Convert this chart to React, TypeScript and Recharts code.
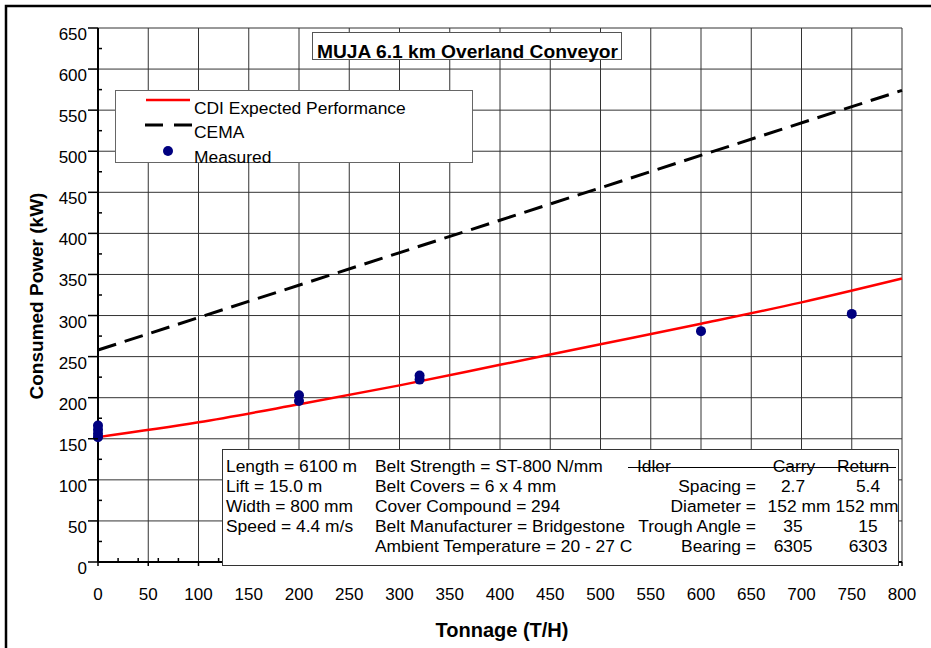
import {
  ComposedChart,
  Line,
  Scatter,
  XAxis,
  YAxis,
  CartesianGrid,
} from "recharts";

// CDI expected performance curve (T/H -> kW)
const cdiTonnage = [0, 100, 200, 300, 400, 500, 600, 700, 800];
const cdiPower = [152, 170, 192, 215, 240, 265, 290, 316, 345];

// CEMA estimate
const cemaTonnage = [0, 400, 800];
const cemaPower = [258, 416, 574];

// measured points
const measuredTonnage = [0, 0, 0, 0, 200, 200, 320, 320, 600, 750];
const measuredPower = [152, 156, 161, 166, 196, 203, 222, 227, 281, 302];

const xMajor = [0, 50, 100, 150, 200, 250, 300, 350, 400, 450, 500, 550, 600, 650, 700, 750, 800];
const yMajor = [0, 50, 100, 150, 200, 250, 300, 350, 400, 450, 500, 550, 600, 650];

const cdiData = cdiTonnage.map((x, i) => ({ x, y: cdiPower[i] }));
const cemaData = cemaTonnage.map((x, i) => ({ x, y: cemaPower[i] }));
const measuredData = measuredTonnage.map((x, i) => ({ x, y: measuredPower[i] }));

// tick positions: majors every 50, minors every 20 on x / 25 on y
const xTicks: number[] = [];
for (let v = 0; v <= 800; v += 10) {
  if (v % 50 === 0 || v % 20 === 0) xTicks.push(v);
}
const yTicks: number[] = [];
for (let v = 0; v <= 650; v += 25) yTicks.push(v);

const FONT = "Arial, 'Liberation Sans', Helvetica, sans-serif";

function XTick(props: any) {
  const { x, y, payload } = props;
  const v = payload.value;
  const major = v % 50 === 0;
  return (
    <g>
      {major ? (
        <line x1={x} x2={x} y1={y} y2={y + 4} stroke="#000" strokeWidth={1.5} />
      ) : (
        <line x1={x} x2={x} y1={y} y2={y - 4} stroke="#000" strokeWidth={1.5} />
      )}
      {major && (
        <text x={x} y={y + 38} textAnchor="middle" fontSize={17} fontFamily={FONT} fill="#000">
          {v}
        </text>
      )}
    </g>
  );
}

function YTick(props: any) {
  const { x, y, payload } = props;
  const v = payload.value;
  const major = v % 50 === 0;
  return (
    <g>
      {major ? (
        <line x1={x - 10} x2={x} y1={y} y2={y} stroke="#000" strokeWidth={1.5} />
      ) : (
        <line x1={x} x2={x + 4} y1={y} y2={y} stroke="#000" strokeWidth={1.5} />
      )}
      {major && (
        <text x={87} y={y + 12} textAnchor="end" fontSize={17} fontFamily={FONT} fill="#000">
          {v}
        </text>
      )}
    </g>
  );
}

const dot = (p: any) => <circle cx={p.cx} cy={p.cy} r={5} fill="#000080" />;

function Overlay() {
  const t = { fontFamily: FONT, fontSize: 17.4, fill: "#000" } as const;
  const rows = [472, 492, 512, 532, 552];
  return (
    <svg
      width={931}
      height={648}
      style={{ position: "absolute", left: 0, top: 0, pointerEvents: "none" }}
    >
      <rect x={6} y={6} width={960} height={700} fill="none" stroke="#000" strokeWidth={2.5} />

      {/* title */}
      <rect x={312.5} y={32.5} width={309} height={27} fill="#fff" stroke="#555" strokeWidth={1} />
      <text x={317} y={57.5} fontFamily={FONT} fontSize={19.2} fontWeight="bold" fill="#000">
        MUJA 6.1 km Overland Conveyor
      </text>

      {/* legend */}
      <rect x={115.5} y={90.5} width={357} height={72} fill="#fff" stroke="#666" strokeWidth={1} />
      <line x1={146} x2={190} y1={100} y2={100} stroke="#ff0000" strokeWidth={2.5} />
      <text x={194} y={114} {...t} fontSize={17.4}>CDI Expected Performance</text>
      <line x1={145} x2={192} y1={125} y2={125} stroke="#000" strokeWidth={3} strokeDasharray="18 11" />
      <text x={194} y={138} {...t} fontSize={17.4}>CEMA</text>
      <circle cx={168} cy={151} r={5} fill="#000080" />
      <text x={194} y={163} {...t} fontSize={17.4}>Measured</text>

      {/* conveyor data box */}
      <rect x={222.5} y={449.5} width={676} height={116} fill="#fff" stroke="#333" strokeWidth={1} />
      <text x={226} y={rows[0]} {...t}>Length = 6100 m</text>
      <text x={226} y={rows[1]} {...t}>Lift = 15.0 m</text>
      <text x={226} y={rows[2]} {...t}>Width = 800 mm</text>
      <text x={226} y={rows[3]} {...t}>Speed = 4.4 m/s</text>

      <text x={375} y={rows[0]} {...t}>Belt Strength = ST-800 N/mm</text>
      <text x={375} y={rows[1]} {...t}>Belt Covers = 6 x 4 mm</text>
      <text x={375} y={rows[2]} {...t}>Cover Compound = 294</text>
      <text x={375} y={rows[3]} {...t}>Belt Manufacturer = Bridgestone</text>
      <text x={375} y={rows[4]} {...t}>Ambient Temperature = 20 - 27 C</text>

      <text x={637} y={rows[0]} {...t}>Idler</text>
      <text x={794} y={rows[0]} {...t} textAnchor="middle">Carry</text>
      <text x={863} y={rows[0]} {...t} textAnchor="middle">Return</text>
      <line x1={628} x2={896} y1={467.5} y2={467.5} stroke="#000" strokeWidth={1} />

      <text x={756} y={rows[1]} {...t} textAnchor="end">Spacing =</text>
      <text x={756} y={rows[2]} {...t} textAnchor="end">Diameter =</text>
      <text x={756} y={rows[3]} {...t} textAnchor="end">Trough Angle =</text>
      <text x={756} y={rows[4]} {...t} textAnchor="end">Bearing =</text>

      <text x={793} y={rows[1]} {...t} textAnchor="middle">2.7</text>
      <text x={799} y={rows[2]} {...t} textAnchor="middle">152 mm</text>
      <text x={793} y={rows[3]} {...t} textAnchor="middle">35</text>
      <text x={793} y={rows[4]} {...t} textAnchor="middle">6305</text>

      <text x={868} y={rows[1]} {...t} textAnchor="middle">5.4</text>
      <text x={867} y={rows[2]} {...t} textAnchor="middle">152 mm</text>
      <text x={868} y={rows[3]} {...t} textAnchor="middle">15</text>
      <text x={868} y={rows[4]} {...t} textAnchor="middle">6303</text>

      {/* axis titles */}
      <text x={502} y={637} textAnchor="middle" fontFamily={FONT} fontSize={20} fontWeight="bold" fill="#000">
        Tonnage (T/H)
      </text>
      <text
        x={0}
        y={0}
        transform="translate(43,296) rotate(-90)"
        textAnchor="middle"
        fontFamily={FONT}
        fontSize={19}
        fontWeight="bold"
        fill="#000"
      >
        Consumed Power (kW)
      </text>
    </svg>
  );
}

export default function App() {
  return (
    <div style={{ position: "absolute", left: 0, top: 0, width: 931, height: 648, background: "#fff" }}>
      <ComposedChart
        width={931}
        height={648}
        margin={{ top: 28, right: 29, bottom: 0, left: 0 }}
      >
        <CartesianGrid
          stroke="#333"
          strokeWidth={1}
          horizontalValues={yMajor}
          verticalValues={xMajor}
        />
        <XAxis
          type="number"
          dataKey="x"
          domain={[0, 800]}
          ticks={xTicks}
          interval={0}
          height={86}
          tickSize={0}
          tickMargin={0}
          tickLine={false}
          tick={<XTick />}
          axisLine={{ stroke: "#000", strokeWidth: 2 }}
          allowDuplicatedCategory={false}
        />
        <YAxis
          type="number"
          dataKey="y"
          domain={[0, 650]}
          ticks={yTicks}
          interval={0}
          width={98}
          tickSize={0}
          tickMargin={0}
          tickLine={false}
          tick={<YTick />}
          axisLine={{ stroke: "#000", strokeWidth: 2 }}
        />
        <Line
          data={cemaData}
          dataKey="y"
          type="linear"
          stroke="#000"
          strokeWidth={3}
          strokeDasharray="19 9"
          dot={false}
          isAnimationActive={false}
        />
        <Line
          data={cdiData}
          dataKey="y"
          type="monotone"
          stroke="#ff0000"
          strokeWidth={2.5}
          dot={false}
          isAnimationActive={false}
        />
        <Scatter data={measuredData} dataKey="y" shape={dot} isAnimationActive={false} />
      </ComposedChart>
      <Overlay />
    </div>
  );
}
